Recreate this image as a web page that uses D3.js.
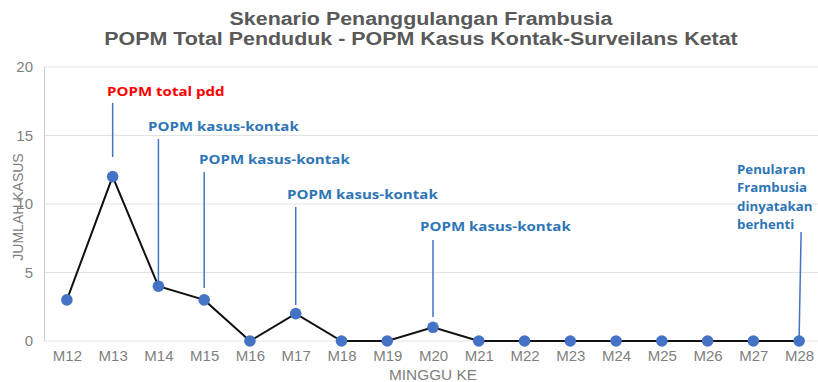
<!DOCTYPE html>
<html>
<head>
<meta charset="utf-8">
<script src="https://cdn.jsdelivr.net/npm/d3@7"></script>
<style>
  html, body { margin: 0; padding: 0; background: #fff; }
  svg { display: block; }
</style>
</head>
<body>
<svg id="chart" width="818" height="382"></svg>
<script>
// Weekly case counts
const weeks = ["M12","M13","M14","M15","M16","M17","M18","M19","M20","M21","M22","M23","M24","M25","M26","M27","M28"];
const cases = [3, 12, 4, 3, 0, 2, 0, 0, 1, 0, 0, 0, 0, 0, 0, 0, 0];
const yTicks = [0, 5, 10, 15, 20];

// Intervention notes attached to weeks
const noteWeeks = ["M13", "M14", "M15", "M17", "M20", "M28"];
const noteTexts = [
  ["POPM total pdd"],
  ["POPM kasus-kontak"],
  ["POPM kasus-kontak"],
  ["POPM kasus-kontak"],
  ["POPM kasus-kontak"],
  ["Penularan", "Frambusia", "dinyatakan", "berhenti"]
];

const titleLines = ["Skenario Penanggulangan Frambusia", "POPM Total Penduduk  - POPM Kasus Kontak-Surveilans  Ketat"];

// Layout of the note labels (pixel placement, kept apart from the data)
const noteLayout = [
  { lx: 107, ly: 96,  y1: 103, y2: 157, color: "#ff0000", sx: 1.16 },
  { lx: 148, ly: 131, y1: 139, y2: 285, color: "#2e75b6", sx: 1.16 },
  { lx: 199, ly: 164, y1: 172, y2: 288, color: "#2e75b6", sx: 1.16 },
  { lx: 287, ly: 199, y1: 207, y2: 305, color: "#2e75b6", sx: 1.16 },
  { lx: 420, ly: 231, y1: 240, y2: 317, color: "#2e75b6", sx: 1.16 },
  { lx: 737, ly: 174, y1: 232, y2: 338, color: "#2e75b6", sx: 1.02, dx: 2 }
];

(function () {
  const svg = d3.select("#chart");
  const pL = 44, pR = 822, pT = 67, pB = 341;

  const x = d3.scalePoint().domain(weeks).range([pL, pR]).padding(0.5);
  const y = d3.scaleLinear().domain([0, 20]).range([pB, pT]);

  // Gridlines
  svg.append("g")
    .selectAll("line")
    .data(yTicks)
    .join("line")
    .attr("x1", pL).attr("x2", 818)
    .attr("y1", d => y(d)).attr("y2", d => y(d))
    .attr("stroke", "#e3e3e3").attr("stroke-width", 1);

  // Left axis line
  svg.append("line")
    .attr("x1", pL + 0.5).attr("x2", pL + 0.5)
    .attr("y1", pT).attr("y2", pB)
    .attr("stroke", "#c8c8c8");

  // Y axis
  const yAxis = svg.append("g")
    .attr("transform", `translate(${pL},0)`)
    .call(d3.axisLeft(y).tickValues(yTicks).tickSize(0).tickPadding(11));
  yAxis.select(".domain").remove();
  yAxis.selectAll("text")
    .attr("fill", "#7f7f7f")
    .style("font-family", "Liberation Sans, Arial, sans-serif")
    .style("font-size", "15px");

  // X axis
  const xAxis = svg.append("g")
    .attr("transform", `translate(0,${pB})`)
    .call(d3.axisBottom(x).tickSize(0).tickPadding(9));
  xAxis.select(".domain").remove();
  xAxis.selectAll("text")
    .attr("fill", "#7f7f7f")
    .style("font-family", "Liberation Sans, Arial, sans-serif")
    .style("font-size", "15px");

  // Axis titles
  svg.append("text")
    .attr("transform", `translate(433,380) scale(1.1,1)`)
    .attr("text-anchor", "middle")
    .attr("fill", "#7f7f7f")
    .style("font-family", "Liberation Sans, Arial, sans-serif")
    .style("font-size", "14px")
    .text("MINGGU KE");

  svg.append("text")
    .attr("transform", `translate(23,${(pT + pB) / 2 + 3}) rotate(-90)`)
    .attr("text-anchor", "middle")
    .attr("fill", "#7f7f7f")
    .style("font-family", "Liberation Sans, Arial, sans-serif")
    .style("font-size", "14px")
    .text("JUMLAH KASUS");

  // Title
  svg.append("g")
    .selectAll("text")
    .data(titleLines)
    .join("text")
    .attr("transform", (d, i) => `translate(421,${25 + i * 20}) scale(1.19,1)`)
    .attr("text-anchor", "middle")
    .attr("fill", "#595959")
    .style("font-family", "Liberation Sans, Arial, sans-serif")
    .style("font-weight", "bold")
    .style("font-size", "18px")
    .text(d => d);

  // Case line
  svg.append("path")
    .datum(cases)
    .attr("fill", "none")
    .attr("stroke", "#111")
    .attr("stroke-width", 2)
    .attr("d", d3.line().x((d, i) => x(weeks[i])).y(d => y(d)));

  // Markers
  svg.append("g")
    .selectAll("circle")
    .data(cases)
    .join("circle")
    .attr("cx", (d, i) => x(weeks[i]))
    .attr("cy", d => y(d))
    .attr("r", 5.8)
    .attr("fill", "#4472c4");

  // Notes with leader lines
  noteWeeks.forEach((w, i) => {
    const L = noteLayout[i];
    const cx = x(w);
    svg.append("line")
      .attr("x1", cx + (L.dx || 0)).attr("x2", cx)
      .attr("y1", L.y1).attr("y2", L.y2)
      .attr("stroke", "#4472c4").attr("stroke-width", 1.5);
    const t = svg.append("text")
      .attr("transform", `translate(${L.lx},${L.ly}) scale(${L.sx},1)`)
      .attr("fill", L.color)
      .style("font-family", "Open Sans, sans-serif")
      .style("font-weight", "bold")
      .style("font-size", "13px");
    t.selectAll("tspan")
      .data(noteTexts[i])
      .join("tspan")
      .attr("x", 0)
      .attr("dy", (d, j) => j === 0 ? 0 : 18.5)
      .text(d => d);
  });
})();
</script>
</body>
</html>
